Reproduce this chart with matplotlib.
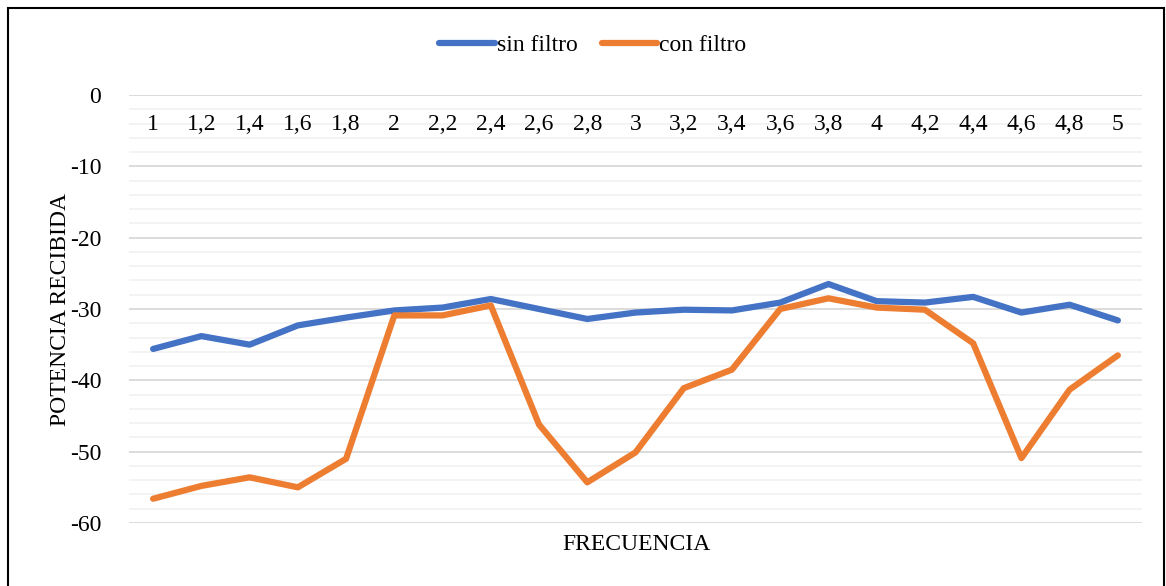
import matplotlib
matplotlib.use("Agg")
from matplotlib import pyplot as plt
from matplotlib.patches import Rectangle
from matplotlib.ticker import MultipleLocator

plt.rcParams['font.family'] = ['Liberation Serif', 'DejaVu Serif']
plt.rcParams['axes.unicode_minus'] = False

frecuencia = ["1", "1,2", "1,4", "1,6", "1,8", "2", "2,2", "2,4", "2,6", "2,8", "3",
              "3,2", "3,4", "3,6", "3,8", "4", "4,2", "4,4", "4,6", "4,8", "5"]
sin_filtro = [-35.6, -33.8, -35.0, -32.3, -31.2, -30.2, -29.8, -28.6, -30.0, -31.4, -30.5,
              -30.1, -30.2, -29.1, -26.5, -28.9, -29.1, -28.3, -30.5, -29.4, -31.6]
con_filtro = [-56.6, -54.8, -53.6, -55.0, -51.0, -30.9, -30.9, -29.5, -46.2, -54.3, -50.1,
              -41.1, -38.5, -30.0, -28.5, -29.8, -30.1, -34.8, -50.9, -41.3, -36.5]

fs = 17

fig = plt.figure(figsize=(11.66, 5.86), dpi=100)
ax = fig.add_axes([129/1166, 1 - 523/586, (1142-129)/1166, (523-95)/586])

x = list(range(len(frecuencia)))
ax.plot(x, sin_filtro, color='#4472C4', lw=4.5, solid_capstyle='round',
        solid_joinstyle='round', label='sin filtro', zorder=3)
ax.plot(x, con_filtro, color='#ED7D31', lw=4.5, solid_capstyle='round',
        solid_joinstyle='round', label='con filtro', zorder=3)

ax.set_xlim(-0.5, len(frecuencia) - 0.5)
ax.set_ylim(-60, 0)
ax.yaxis.set_major_locator(MultipleLocator(10))
ax.yaxis.set_minor_locator(MultipleLocator(2))
ax.grid(which='major', axis='y', color='#d9d9d9', lw=1.3)
ax.grid(which='minor', axis='y', color='#f2f2f2', lw=1.3)
ax.set_axisbelow(True)
for s in ax.spines.values():
    s.set_visible(False)
ax.tick_params(axis='y', which='both', length=0, pad=20, labelsize=fs)
ax.set_xticks([])

# category labels sit just under the axis at 0
for i, lab in enumerate(frecuencia):
    ax.text(i, -4.1, lab, ha='center', va='center', fontsize=fs)

ax.set_ylabel('POTENCIA RECIBIDA', fontsize=fs)
ax.yaxis.set_label_coords(-0.057, 0.5)
fig.text(636/1166, 1 - 545/586, 'FRECUENCIA', ha='center', va='center', fontsize=fs)

fig.legend(loc='center', bbox_to_anchor=(593/1166, 1 - 45/586), ncol=2,
           frameon=False, fontsize=fs, handlelength=2.35, handletextpad=0.1,
           columnspacing=1.0)

# outer frame and the clipped caption above it
fig.patches.append(Rectangle((8/1166, -0.05), (1164-8)/1166, 1 - 8/586 + 0.05,
                             transform=fig.transFigure, fill=False, ec='black', lw=1.5))
fig.text(8/1166, 1 + 5/586, 'con filtro.', ha='left', va='center', fontsize=fs)

fig.savefig('out.png', dpi=100)
